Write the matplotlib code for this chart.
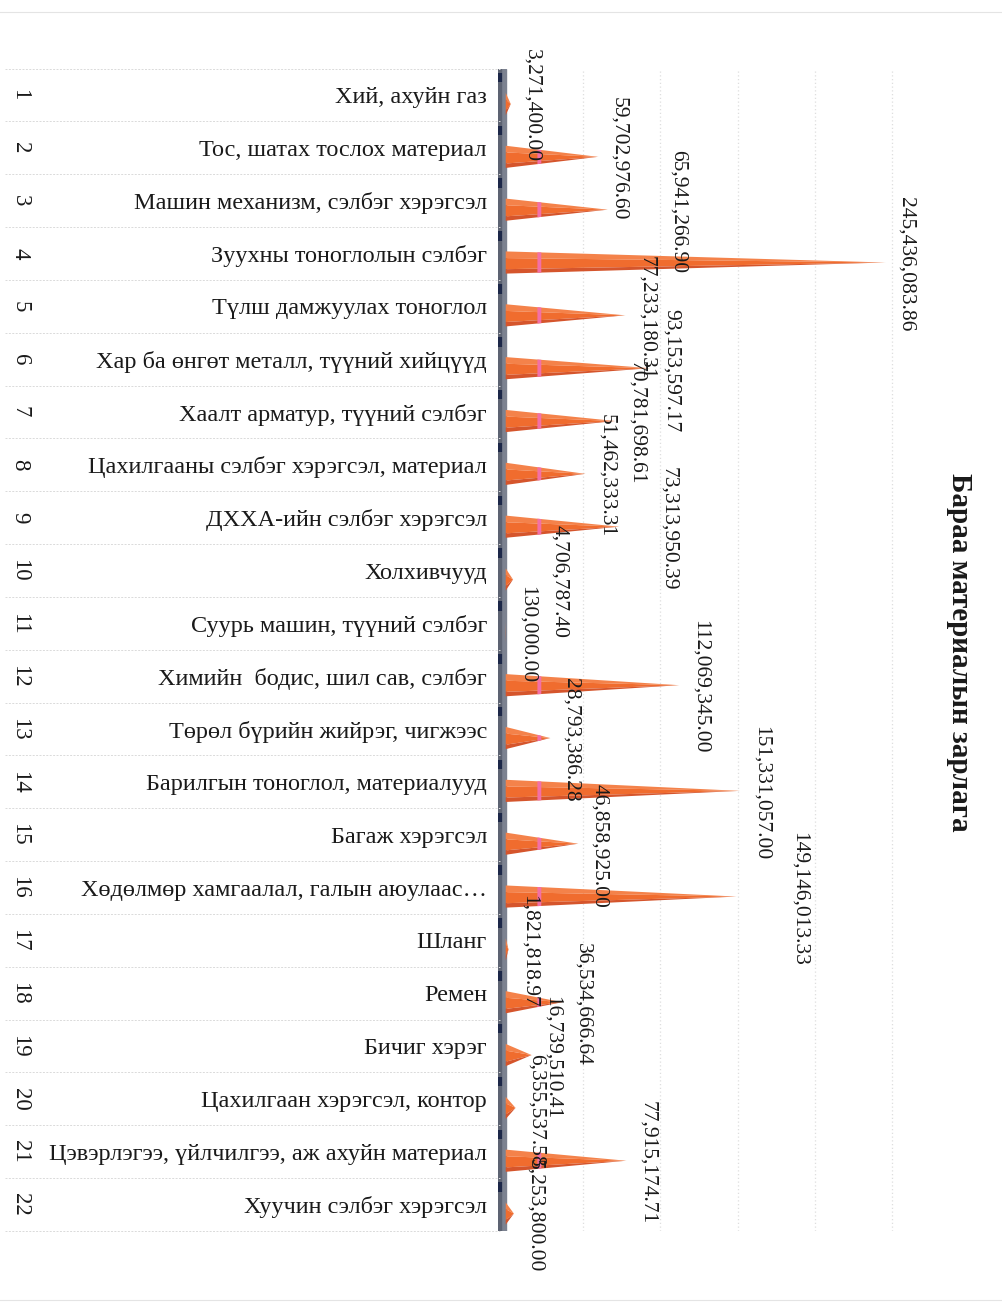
import matplotlib.pyplot as plt
from matplotlib.lines import Line2D
import numpy as np

plt.rcParams['font.family'] = ['Liberation Serif', 'DejaVu Serif']

# Data
categories = [
    'Хий, ахуйн газ',
    'Тос, шатах тослох материал',
    'Машин механизм, сэлбэг хэрэгсэл',
    'Зуухны тоноглолын сэлбэг',
    'Түлш дамжуулах тоноглол',
    'Хар ба өнгөт металл, түүний хийцүүд',
    'Хаалт арматур, түүний сэлбэг',
    'Цахилгааны сэлбэг хэрэгсэл, материал',
    'ДХХА-ийн сэлбэг хэрэгсэл',
    'Холхивчууд',
    'Суурь машин, түүний сэлбэг',
    'Химийн  бодис, шил сав, сэлбэг',
    'Төрөл бүрийн жийрэг, чигжээс',
    'Барилгын тоноглол, материалууд',
    'Багаж хэрэгсэл',
    'Хөдөлмөр хамгаалал, галын аюулаас…',
    'Шланг',
    'Ремен',
    'Бичиг хэрэг',
    'Цахилгаан хэрэгсэл, контор',
    'Цэвэрлэгээ, үйлчилгээ, аж ахуйн материал',
    'Хуучин сэлбэг хэрэгсэл',
]
row_numbers = [str(i) for i in range(1, 23)]
values = [
    3271400.00, 59702976.60, 65941266.90, 245436083.86, 77233180.31,
    93153597.17, 70781698.61, 51462333.31, 73313950.39, 4706787.40,
    130000.00, 112069345.00, 28793386.28, 151331057.00, 46858925.00,
    149146013.33, 1821818.97, 36534666.64, 16739510.41, 6355537.58,
    77915174.71, 5253800.00,
]
title = 'Бараа материалын зарлага'

# extra horizontal shift (pixels) of some value labels, as in the scan
label_nudge = {2: 49, 8: 28, 9: 26, 15: 42}

W, H = 1002, 1303
fig = plt.figure(figsize=(W / 100, H / 100), dpi=100)
fig.patch.set_facecolor('white')
ax_left, ax_right, ax_top, ax_bot = 498, 900, 68.6, 1231
ax = fig.add_axes([ax_left / W, 1 - ax_bot / H, (ax_right - ax_left) / W, (ax_bot - ax_top) / H])
ax.set_xlim(-5e6, 255e6)
ax.set_ylim(21.5, -0.5)
for s in ax.spines.values():
    s.set_visible(False)

# faint back-wall gridlines
ax.set_xticks(np.arange(50e6, 251e6, 50e6))
ax.tick_params(axis='x', length=0, labelbottom=False)
ax.grid(axis='x', color='#dedede', ls=(0, (1, 2)), lw=0.9)
ax.set_axisbelow(True)

# 3D-looking axis wall
ax.axvspan(-5e6, 0, color='#7c8290', zorder=1)
ax.axvspan(-5e6, -3.2e6, color='#5d6372', zorder=1)
ax.vlines(np.full(len(values), -3.6e6), np.arange(len(values)) - 0.42,
          np.arange(len(values)) - 0.24, color='#1c2748', lw=3, zorder=2)

# cone-shaped bars
h = 0.42
off = 0.17
col_top, col_mid, col_bot = '#F4824A', '#F06C2E', '#D5552C'
band0, band1 = 20.5e6, 23e6
for i, v in enumerate(values):
    c = i + off
    ax.fill([0, v, 0], [c - h / 2, c, c - h * 0.2], color=col_top, lw=0, zorder=3)
    ax.fill([0, v, 0], [c - h * 0.2, c, c + h * 0.3], color=col_mid, lw=0, zorder=3)
    ax.fill([0, v, 0], [c + h * 0.3, c, c + h / 2], color=col_bot, lw=0, zorder=3)
    if v > band1 + 3e6:
        f0, f1 = 1 - band0 / v, 1 - band1 / v
        ax.fill([band0, band1, band1, band0],
                [c - h / 2 * f0, c - h / 2 * f1, c + h / 2 * f1, c + h / 2 * f0],
                color='#F36FA6', lw=0, zorder=4)

# value labels
for i, v in enumerate(values):
    ax.annotate(f'{v:,.2f}', xy=(v, i), xytext=(21 + label_nudge.get(i, 0), -11),
                textcoords='offset pixels', rotation=-90, ha='center', va='center',
                fontsize=15.5, color='#1a1a1a', zorder=6, annotation_clip=False)

# category labels
ax.set_yticks(range(len(categories)))
ax.set_yticklabels(categories, fontsize=17.5, color='#1a1a1a')
ax.tick_params(axis='y', length=0, pad=8)

tr = ax.get_yaxis_transform()
px = lambda x: (x - ax_left) / (ax_right - ax_left)
for i, n in enumerate(row_numbers):
    ax.text(px(20), i, n, transform=tr, rotation=-90, ha='center', va='center',
            fontsize=16.5, color='#1a1a1a')
for b in np.arange(-0.5, len(categories)):
    ax.add_line(Line2D([px(5), px(500)], [b, b], transform=tr, color='#dadada',
                       lw=0.7, ls=(0, (2, 1.5)), clip_on=False))

fig.text(960 / W, 1 - 652 / H, title, rotation=-90, ha='center', va='center',
         fontsize=21, fontweight='bold', color='#1a1a1a')

# scan page edges
for y in (12, 1300):
    fig.add_artist(Line2D([0, 1], [1 - y / H, 1 - y / H], color='#e4e4e4', lw=0.8))

fig.savefig('out.png', dpi=100)
